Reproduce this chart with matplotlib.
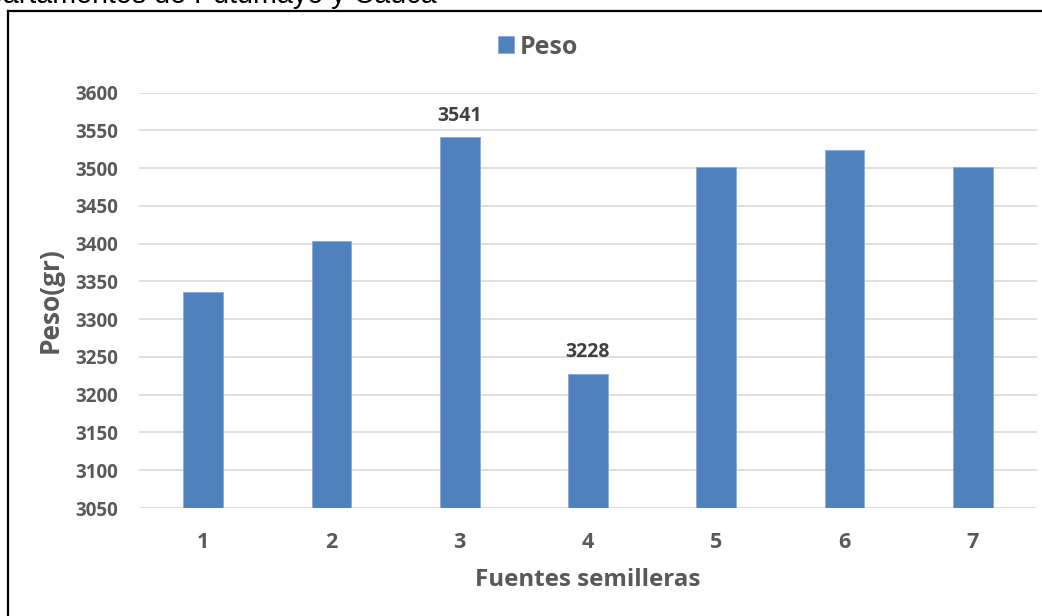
import matplotlib
matplotlib.use("Agg")
import matplotlib.pyplot as plt
from matplotlib.lines import Line2D

# Seed-source weights
fuentes = ["1", "2", "3", "4", "5", "6", "7"]
peso = [3336, 3403, 3541, 3228, 3502, 3524, 3502]
etiquetas_valor = {2: "3541", 3: "3228"}  # bars carrying a data label
y_ticks = [3050, 3100, 3150, 3200, 3250, 3300, 3350, 3400, 3450, 3500, 3550, 3600]

BAR = "#4F81BD"
GRAY = "#595959"
GRID = "#D9D9D9"
FONT = "Open Sans"

W, H = 1042, 616
fig = plt.figure(figsize=(W / 100, H / 100), dpi=100)
fig.patch.set_facecolor("white")

ax = fig.add_axes([139 / W, 1 - 508 / H, (1037 - 139) / W, (508 - 92.5) / H])
x = list(range(len(fuentes)))
bars = ax.bar(x, [v - y_ticks[0] for v in peso], bottom=y_ticks[0], width=0.31,
              color=BAR, edgecolor="#8DAAD6", linewidth=0.6, zorder=3, label="Peso")

ax.set_xlim(-0.5, len(fuentes) - 0.5)
ax.set_ylim(y_ticks[0], y_ticks[-1])
ax.set_yticks(y_ticks)
ax.set_xticks(x)
ax.set_xticklabels(fuentes)
ax.yaxis.grid(True, color=GRID, linewidth=1.2, zorder=0)
ax.set_axisbelow(True)
for s in ("top", "right", "left", "bottom"):
    ax.spines[s].set_visible(False)
ax.tick_params(axis="both", length=0)
ax.tick_params(axis="y", pad=15)
ax.tick_params(axis="x", pad=17)
for lab in ax.get_yticklabels():
    lab.set_fontfamily(FONT); lab.set_fontweight("bold"); lab.set_fontsize(13.5); lab.set_color(GRAY)
for lab in ax.get_xticklabels():
    lab.set_fontfamily(FONT); lab.set_fontweight("bold"); lab.set_fontsize(15.5); lab.set_color(GRAY)

for i, txt in etiquetas_valor.items():
    ax.annotate(txt, (x[i], peso[i]), xytext=(0, 8), textcoords="offset points",
                ha="center", va="bottom", fontfamily=FONT, fontweight="bold",
                fontsize=14, color="#404040")

ax.set_ylabel("Peso(gr)", fontfamily=FONT, fontweight="bold", fontsize=19,
              color=GRAY)
ax.yaxis.set_label_coords(-(139 - 50) / (1037 - 139), 0.5)
ax.yaxis.label.set_va("center")
ax.set_xlabel("Fuentes semilleras", fontfamily=FONT, fontweight="bold",
              fontsize=17.4, color=GRAY)
ax.xaxis.set_label_coords(0.5, -(580 - 508) / (508 - 92.5))
ax.xaxis.label.set_va("center")

fig.legend(handles=[bars], labels=["Peso"], loc="center",
           bbox_to_anchor=(538 / W, 1 - 47 / H), frameon=False,
           prop={"family": FONT, "weight": "bold", "size": 18},
           labelcolor=GRAY, handlelength=0.65, handleheight=0.65,
           handletextpad=0.2)

# Chart frame (left and top edges)
fig.add_artist(Line2D([8 / W, 8 / W], [0, 1 - 11 / H], transform=fig.transFigure,
                      color="black", linewidth=1.6))
fig.add_artist(Line2D([8 / W, 1], [1 - 11 / H, 1 - 11 / H], transform=fig.transFigure,
                      color="black", linewidth=1.6))

# Caption line running above the frame
fig.text(437 / W, 1 - 3 / H, "departamentos de Putumayo y Cauca", ha="right",
         va="baseline", fontfamily="Liberation Sans", fontsize=20.6, color="black")

fig.savefig("out.png", dpi=100, facecolor="white")
